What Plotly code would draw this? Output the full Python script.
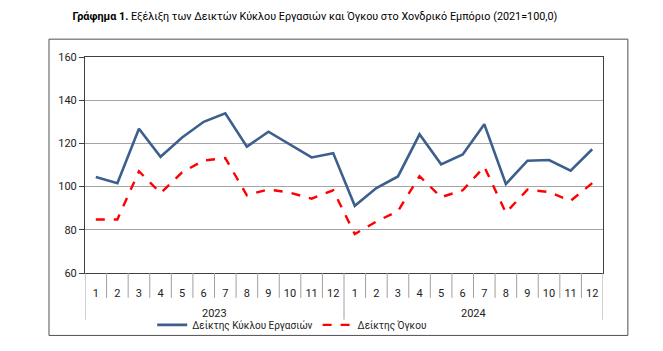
import plotly.graph_objects as go

years = ["2023", "2024"]
months = [str(m) for m in range(1, 13)] * 2

turnover = [104.4, 101.6, 126.8, 113.8, 122.7, 130.0, 133.9, 118.5, 125.4, 119.6, 113.5, 115.5,
            91.1, 99.3, 104.7, 124.2, 110.3, 114.9, 128.9, 101.2, 112.0, 112.3, 107.4, 117.3]
volume = [84.8, 84.8, 107.1, 97.0, 106.6, 112.1, 113.2, 96.0, 98.7, 97.2, 94.4, 98.3,
          78.0, 83.8, 88.7, 104.8, 95.1, 98.3, 109.2, 87.9, 98.6, 97.5, 93.4, 101.6]

name_turnover = "Δείκτης Κύκλου Εργασιών"
name_volume = "Δείκτης Όγκου"
title_text = "<b>Γράφημα 1.</b> Εξέλιξη των Δεικτών Κύκλου Εργασιών και Όγκου στο Χονδρικό Εμπόριο (2021=100,0)"

font_family = "Roboto"
n = len(months)
xs = list(range(n))

fig = go.Figure()
fig.add_trace(go.Scatter(x=xs, y=turnover, mode="lines", name=name_turnover,
                         line=dict(color="#3D5F8E", width=2.6)))
fig.add_trace(go.Scatter(x=xs, y=volume, mode="lines", name=name_volume,
                         line=dict(color="#FF0000", width=2.4, dash="dash")))

fig.update_layout(
    width=663, height=351,
    margin=dict(l=85, r=60, t=57, b=76),
    paper_bgcolor="white", plot_bgcolor="white",
    font=dict(family=font_family, size=11, color="#222222"),
    title=dict(text=title_text, x=0.475, xanchor="center", y=0.955, yanchor="middle",
               font=dict(family=font_family, size=10.8, color="#000000")),
    showlegend=True,
    legend=dict(orientation="h", x=0.40, xanchor="center", y=-0.24, yanchor="middle",
                font=dict(size=10), bgcolor="rgba(0,0,0,0)", itemwidth=30, tracegroupgap=0),
)

fig.update_xaxes(
    range=[-0.5, n - 0.5], tickvals=xs, ticktext=months, ticks="",
    ticklabelstandoff=10,
    showline=True, linecolor="#404040", linewidth=1, mirror=True,
    tickfont=dict(size=11, color="#222222"), showgrid=False, zeroline=False,
)
fig.update_yaxes(
    range=[60, 160], tickvals=[60, 80, 100, 120, 140, 160], ticks="outside", ticklen=5,
    tickcolor="#404040", showline=True, linecolor="#404040", linewidth=1, mirror=True,
    showgrid=True, gridcolor="#A6A6A6", gridwidth=1, zeroline=False,
    tickfont=dict(size=11, color="#222222"),
)

# month separator ticks and year dividers below the axis
for i in range(n + 1):
    b = i - 0.5
    is_year = (i % 12 == 0)
    fig.add_shape(type="line", xref="x", yref="paper", x0=b, x1=b,
                  y0=0, y1=-0.216 if is_year else -0.115,
                  line=dict(color="#A0A0A0", width=1))

for k, yr in enumerate(years):
    fig.add_annotation(x=k * 12 + 5.5, xref="x", y=-0.186, yref="paper", text=yr,
                       showarrow=False, font=dict(size=11, color="#222222"),
                       xanchor="center", yanchor="middle")

# outer chart frame
fig.add_shape(type="rect", xref="paper", yref="paper",
              x0=-0.0695, x1=1.048, y0=-0.289, y1=1.0826,
              line=dict(color="#505050", width=1), fillcolor="rgba(0,0,0,0)", layer="below")

fig.write_html("out.html")
